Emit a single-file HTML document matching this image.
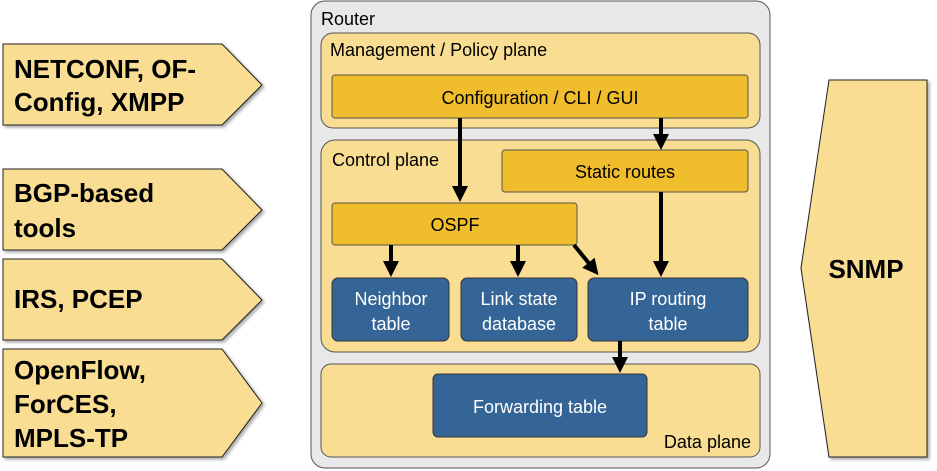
<!DOCTYPE html>
<html><head><meta charset="utf-8"><style>body{margin:0;background:#fff}svg{display:block}text{font-family:"Liberation Sans",Arial,sans-serif}</style></head><body>
<svg width="937" height="471" xmlns="http://www.w3.org/2000/svg">
<defs>
<marker id="a" markerWidth="4" markerHeight="4" refX="3" refY="2" orient="auto" markerUnits="strokeWidth"><path d="M0,0 L4,2 L0,4 z" fill="#000"/></marker>
<filter id="s"><feDropShadow dx="2" dy="2" stdDeviation="1.5" flood-opacity="0.35"/></filter>
</defs>
<g fill="#f8dd92" stroke="#222" stroke-width="1" filter="url(#s)">
<polygon points="3,44 222,44 262,85 222,125 3,125"/>
<polygon points="3,169 222,169 262,210 222,250 3,250"/>
<polygon points="3,259 222,259 262,300 222,340 3,340"/>
<polygon points="3,349 222,349 262,403 222,457 3,457"/>
<polygon points="829,80 927,80 927,457 829,457 801,268"/>
</g>
<g font-weight="bold" font-size="26" fill="#000">
<text x="14" y="78">NETCONF, OF-</text><text x="14" y="111">Config, XMPP</text>
<text x="14" y="202">BGP-based</text><text x="14" y="237">tools</text>
<text x="14" y="308">IRS, PCEP</text>
<text x="14" y="379">OpenFlow,</text><text x="14" y="413">ForCES,</text><text x="14" y="447">MPLS-TP</text>
<text x="866" y="278" text-anchor="middle">SNMP</text>
</g>
<rect x="311" y="1" width="459" height="467" rx="14" fill="#e8e8e8" stroke="#555"/>
<text x="321" y="25" font-size="18">Router</text>
<g fill="#f8dd92" stroke="#555">
<rect x="321" y="33" width="439" height="95" rx="12"/>
<rect x="321" y="140" width="439" height="212" rx="14"/>
<rect x="321" y="364" width="439" height="93" rx="10"/>
</g>
<g fill="#f0bd2c" stroke="#555">
<rect x="332" y="75" width="416" height="43" rx="3"/>
<rect x="502" y="150" width="246" height="42" rx="3"/>
<rect x="332" y="203" width="245" height="42" rx="3"/>
</g>
<g fill="#356597" stroke="#333">
<rect x="332" y="278" width="117" height="63" rx="6"/>
<rect x="461" y="278" width="116" height="63" rx="6"/>
<rect x="588" y="278" width="160" height="63" rx="6"/>
<rect x="433" y="374" width="214" height="63" rx="5"/>
</g>
<g font-size="18" fill="#000">
<text x="330" y="56">Management / Policy plane</text>
<text x="540" y="104" text-anchor="middle">Configuration / CLI / GUI</text>
<text x="332" y="166">Control plane</text>
<text x="625" y="178" text-anchor="middle">Static routes</text>
<text x="455" y="231" text-anchor="middle">OSPF</text>
<text x="751" y="448" text-anchor="end">Data plane</text>
</g>
<g font-size="18" fill="#fff" text-anchor="middle">
<text x="391" y="305">Neighbor</text><text x="391" y="330">table</text>
<text x="519" y="305">Link state</text><text x="519" y="330">database</text>
<text x="668" y="305">IP routing</text><text x="668" y="330">table</text>
<text x="540" y="413">Forwarding table</text>
</g>
<g stroke="#000" stroke-width="4" marker-end="url(#a)">
<line x1="460" y1="118" x2="460" y2="198"/>
<line x1="661" y1="118" x2="661" y2="146"/>
<line x1="391" y1="245" x2="391" y2="273"/>
<line x1="518" y1="245" x2="518" y2="273"/>
<line x1="574" y1="245" x2="596" y2="272"/>
<line x1="661" y1="192" x2="661" y2="273"/>
<line x1="620" y1="341" x2="620" y2="369"/>
</g>
</svg>
</body></html>
